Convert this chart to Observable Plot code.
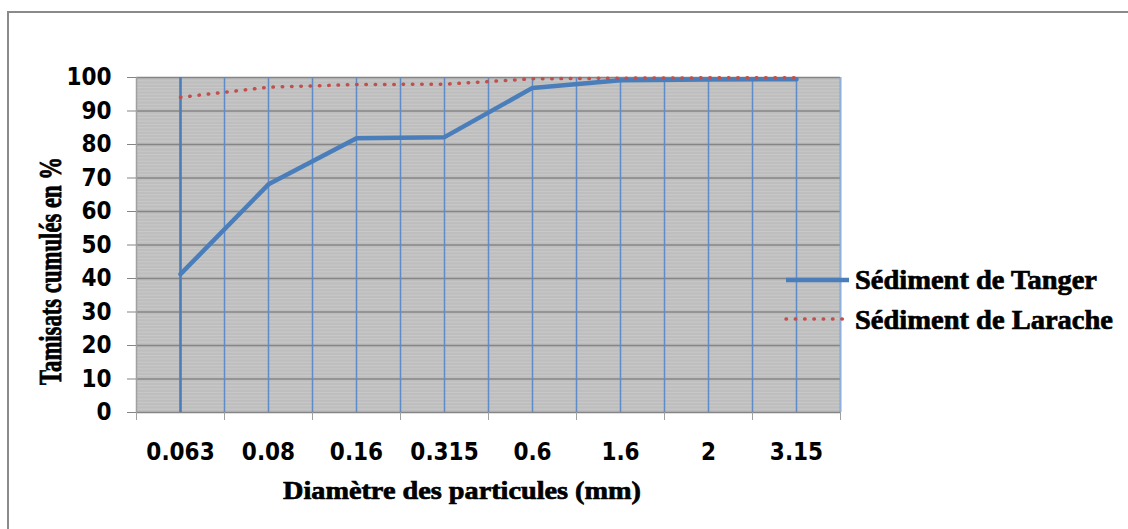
<!DOCTYPE html>
<html>
<head>
<meta charset="utf-8">
<script src="https://cdn.jsdelivr.net/npm/d3@7"></script>
<script src="https://cdn.jsdelivr.net/npm/@observablehq/plot@0.6"></script>
<style>
  html, body { margin: 0; padding: 0; background: #fff; }
  #chart { width: 1128px; height: 529px; overflow: hidden; }
</style>
</head>
<body>
<div id="chart"></div>
<script>
// ---- data ----
const categories = ["0.063", "0.08", "0.16", "0.315", "0.6", "1.6", "2", "3.15"];
const tanger  = [41.3, 68.1, 81.9, 82.2, 96.9, 99.2, 99.4, 99.5];
const larache = [94.1, 97.1, 97.9, 98.0, 99.6, 99.8, 99.9, 99.9];
const yTicks = [0, 10, 20, 30, 40, 50, 60, 70, 80, 90, 100];
const seriesNames = ["Sédiment de Tanger", "Sédiment de Larache"];
const xTitle = "Diamètre des particules (mm)";
const yTitle = "Tamisats cumulés en %";

// ---- derived tables ----
const idx = categories.map((c, i) => i);
const tRows = categories.map((c, i) => ({i, c, v: tanger[i]}));
const lRows = categories.map((c, i) => ({i, c, v: larache[i]}));
const boundaries = [-0.5, ...idx.map(i => i + 0.5)];
const halfGrid = idx.flatMap(i => [i, i + 0.5]);
const minorY = d3.range(0, 100, 1);

const sans = "'DejaVu Sans Condensed', 'DejaVu Sans', sans-serif";
const serif = "'Liberation Serif', 'Times New Roman', serif";
const blue = "#4a7ebb", red = "#c0504d";

const svg = Plot.plot({
  width: 1128, height: 529,
  marginLeft: 136, marginRight: 288, marginTop: 77, marginBottom: 117,
  x: {type: "linear", domain: [-0.5, categories.length - 0.5], axis: null},
  y: {domain: [0, 100], axis: null},
  style: {background: "transparent", overflow: "visible"},
  marks: [
    Plot.frame({fill: "#bebebe", stroke: null}),
    Plot.ruleY(minorY, {stroke: "#c9c9c9", strokeWidth: 1}),
    Plot.ruleY(yTicks, {stroke: "#858585", strokeWidth: 1.3}),
    Plot.ruleX(halfGrid, {stroke: "#5d8cc9", strokeWidth: 1.5}),
    Plot.ruleX([0], {stroke: blue, strokeWidth: 2.5}),
    Plot.ruleX([categories.length - 0.5], {stroke: "#8fb0dc", strokeWidth: 1.5}),
    Plot.ruleX([-0.5], {stroke: "#a0a0a0", strokeWidth: 1.5}),
    Plot.axisY({ticks: yTicks, tickSize: 9, tickPadding: 16, stroke: "#858585", fill: "#000",
      fontSize: 24, fontWeight: "bold", fontFamily: sans, label: null}),
    Plot.axisX({ticks: boundaries, tickSize: 8, tickFormat: () => "", stroke: "#a0a0a0", label: null}),
    Plot.axisX({ticks: idx, tickSize: 0, tickPadding: 30, tickFormat: i => categories[i], fill: "#000",
      fontSize: 24, fontWeight: "bold", fontFamily: sans, label: null}),
    Plot.line(tRows, {x: "i", y: "v", stroke: blue, strokeWidth: 4.5, strokeLinejoin: "round", strokeLinecap: "round"}),
    Plot.line(lRows, {x: "i", y: "v", stroke: red, strokeWidth: 3.5, strokeDasharray: "0.5 8.8", strokeLinecap: "round"})
  ]
});

const s = d3.select(svg);
// outer chart border
s.insert("rect", ":first-child")
  .attr("x", 8).attr("y", 12).attr("width", 1135).attr("height", 540)
  .attr("fill", "none").attr("stroke", "#8a8a8a").attr("stroke-width", 2);

function serifText(sel, str, size) {
  return sel.append("text").text(str)
    .attr("text-anchor", "start")
    .attr("font-family", serif).attr("font-weight", "bold").attr("font-size", size)
    .attr("fill", "#000").attr("stroke", "#000").attr("stroke-width", 0.7)
    .attr("lengthAdjust", "spacingAndGlyphs");
}

// legend
const lg = s.append("g").attr("text-anchor", "start");
lg.append("line").attr("x1", 786).attr("x2", 849).attr("y1", 280).attr("y2", 280)
  .attr("stroke", blue).attr("stroke-width", 4.5);
lg.append("line").attr("x1", 786).attr("x2", 846).attr("y1", 319).attr("y2", 319)
  .attr("stroke", red).attr("stroke-width", 3.5).attr("stroke-dasharray", "0.5 8.8").attr("stroke-linecap", "round");
serifText(lg, seriesNames[0], 28).attr("x", 855).attr("y", 289).attr("textLength", 242);
serifText(lg, seriesNames[1], 28).attr("x", 855).attr("y", 329).attr("textLength", 258);

// axis titles
serifText(s, xTitle, 26).attr("x", 283).attr("y", 499).attr("textLength", 358);
serifText(s, yTitle, 23).attr("text-anchor", "middle")
  .attr("transform", "translate(61,271) rotate(-90) scale(1,1.4)")
  .attr("stroke-width", 0.6)
  .attr("textLength", 228);

document.getElementById("chart").appendChild(svg);
</script>
</body>
</html>
